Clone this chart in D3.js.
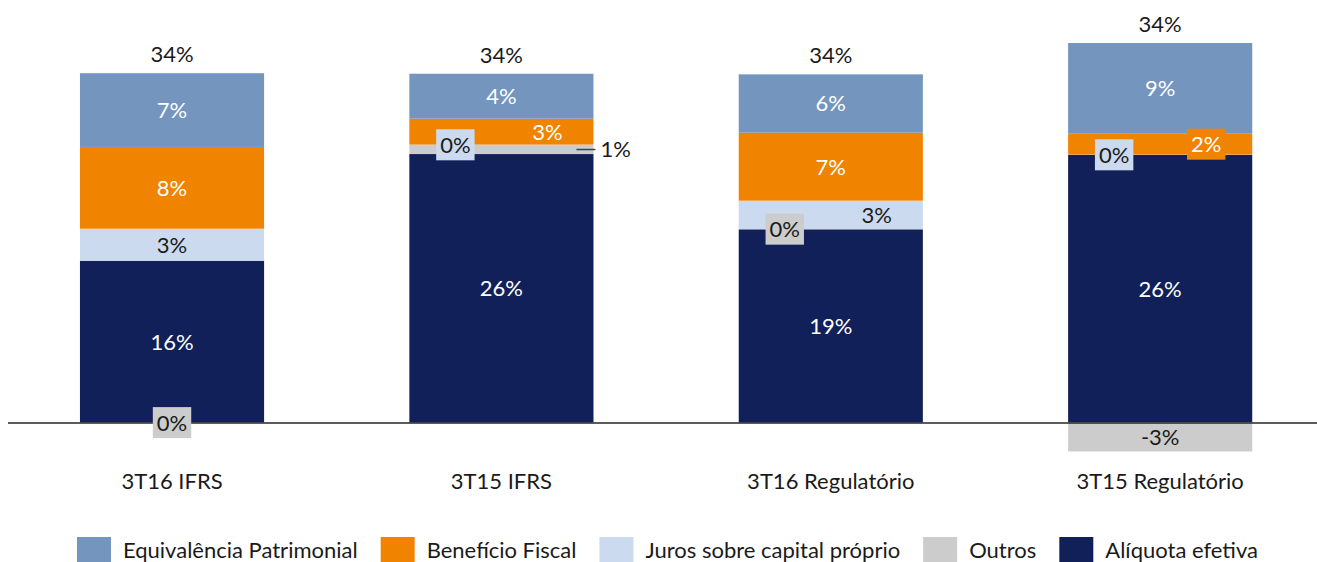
<!DOCTYPE html>
<html lang="pt">
  <head>
    <meta charset="utf-8" />
    <style>
      body { margin: 0; background: #fff; }
      text { font-family: Lato, "Open Sans", sans-serif; }
    </style>
  </head>
  <body>
    <script src="https://d3js.org/d3.v7.min.js"></script>
    <script>
      var width = 1317,
        height = 562;

      // data (percent)
      var categories = ["3T16 IFRS", "3T15 IFRS", "3T16 Regulatório", "3T15 Regulatório"];
      var aliquota = [15.75, 26.14, 18.81, 26.05];
      var outros = [-0.02, 0.88, 0.03, -2.82];
      var juros = [3.12, 0.04, 2.76, 0.03];
      var beneficio = [7.96, 2.52, 6.62, 2.04];
      var equivalencia = [7.18, 4.38, 5.68, 8.83];

      // stack order bottom -> top
      var stackKeys = ["Alíquota efetiva", "Outros", "Juros sobre capital próprio", "Benefício Fiscal", "Equivalência Patrimonial"];
      var seriesValues = [aliquota, outros, juros, beneficio, equivalencia];
      var legendKeys = ["Equivalência Patrimonial", "Benefício Fiscal", "Juros sobre capital próprio", "Outros", "Alíquota efetiva"];

      var colors = {
        "Equivalência Patrimonial": "#7495BE",
        "Benefício Fiscal": "#F08300",
        "Juros sobre capital próprio": "#CCDAEF",
        "Outros": "#CBCCCB",
        "Alíquota efetiva": "#12205A"
      };
      var textColors = {
        "Equivalência Patrimonial": "#fff",
        "Benefício Fiscal": "#fff",
        "Juros sobre capital próprio": "#1a1a1a",
        "Outros": "#1a1a1a",
        "Alíquota efetiva": "#fff"
      };

      // where the small labels sit (dx = share of bar width)
      var labelLayout = {
        "Outros": [{ dx: 0, box: true }, { outside: true }, { dx: -0.25, box: true }, { dx: 0 }],
        "Juros sobre capital próprio": [{ dx: 0 }, { dx: -0.25, box: true }, { dx: 0.25 }, { dx: -0.25, box: true }],
        "Benefício Fiscal": [{ dx: 0 }, { dx: 0.25 }, { dx: 0 }, { dx: 0.25, box: true }]
      };

      // build table for d3.stack
      var table = categories.map(function (c, i) {
        var row = { cat: c };
        stackKeys.forEach(function (k, j) {
          row[k] = seriesValues[j][i];
        });
        return row;
      });

      var series = d3.stack().keys(stackKeys).offset(d3.stackOffsetDiverging)(table);

      var svg = d3.select("body").append("svg").attr("width", width).attr("height", height);

      var x = d3.scaleBand().domain(categories).range([7.5, 1324.7]).paddingInner(0.441).paddingOuter(0.22);
      var k = 10.27;
      var y0 = 422.5;
      var y = d3.scaleLinear().domain([-4, 38]).range([y0 + 4 * k, y0 - 38 * k]);

      // bars
      svg.append("g")
        .selectAll("g")
        .data(series)
        .join("g")
        .attr("fill", function (s) { return colors[s.key]; })
        .selectAll("rect")
        .data(function (s) { return s; })
        .join("rect")
        .attr("x", function (d) { return x(d.data.cat); })
        .attr("width", x.bandwidth())
        .attr("y", function (d) { return y(Math.max(d[0], d[1])); })
        .attr("height", function (d) { return Math.abs(y(d[0]) - y(d[1])); });

      // category axis, its domain line is the zero line
      var axis = svg.append("g")
        .attr("transform", "translate(0," + y(0) + ")")
        .call(d3.axisBottom(x).tickSize(0).tickSizeOuter(0));
      axis.select(".domain").attr("stroke", "#262626").attr("stroke-width", 1.5);
      axis.selectAll("text")
        .attr("y", 66.5)
        .attr("dy", 0)
        .attr("fill", "#1a1a1a")
        .style("font-size", "22px")
        .style("font-family", "Lato, 'Open Sans', sans-serif");

      var fmt = function (v) { return Math.round(v) === 0 ? "0%" : Math.round(v) + "%"; };

      // segment labels
      var labels = svg.append("g");
      series.forEach(function (s) {
        s.forEach(function (d, i) {
          var key = s.key;
          var v = d.data[key];
          var lay = (labelLayout[key] || [])[i] || { dx: 0 };
          var cx = x(d.data.cat) + x.bandwidth() / 2;
          var cy = (y(d[0]) + y(d[1])) / 2;
          if (lay.outside) {
            var xr = x(d.data.cat) + x.bandwidth();
            labels.append("line")
              .attr("x1", xr - 17).attr("x2", xr + 2)
              .attr("y1", cy).attr("y2", cy)
              .attr("stroke", "#404040").attr("stroke-width", 1.5);
            labels.append("text")
              .attr("x", xr + 7).attr("y", cy)
              .attr("dy", "0.36em")
              .attr("fill", "#1a1a1a")
              .style("font-size", "22px")
              .text(fmt(v));
            return;
          }
          var tx = cx + (lay.dx || 0) * x.bandwidth();
          var g = labels.append("g");
          var t = g.append("text")
            .attr("x", tx).attr("y", cy)
            .attr("dy", "0.36em")
            .attr("text-anchor", "middle")
            .attr("fill", textColors[key])
            .style("font-size", "22px")
            .text(fmt(v));
          if (lay.box) {
            var w = t.node().getComputedTextLength() + 8;
            g.insert("rect", "text")
              .attr("x", tx - w / 2).attr("y", cy - 15.5)
              .attr("width", w).attr("height", 31)
              .attr("fill", colors[key]);
          }
        });
      });

      // totals above each bar
      table.forEach(function (row, i) {
        var net = d3.sum(seriesValues, function (arr) { return arr[i]; });
        var top = d3.sum(seriesValues, function (arr) { return Math.max(0, arr[i]); });
        svg.append("text")
          .attr("x", x(row.cat) + x.bandwidth() / 2)
          .attr("y", y(top) - 11)
          .attr("text-anchor", "middle")
          .attr("fill", "#1a1a1a")
          .style("font-size", "22px")
          .text(fmt(net));
      });

      // legend
      var legend = svg.append("g");
      var lx = 77;
      legendKeys.forEach(function (key) {
        legend.append("rect")
          .attr("x", lx).attr("y", 537)
          .attr("width", 34).attr("height", 34)
          .attr("fill", colors[key]);
        var t = legend.append("text")
          .attr("x", lx + 46).attr("y", 558)
          .attr("fill", "#1a1a1a")
          .style("font-size", "22px")
          .text(key);
        lx = lx + 46 + t.node().getComputedTextLength() + 23;
      });
    </script>
  </body>
</html>
